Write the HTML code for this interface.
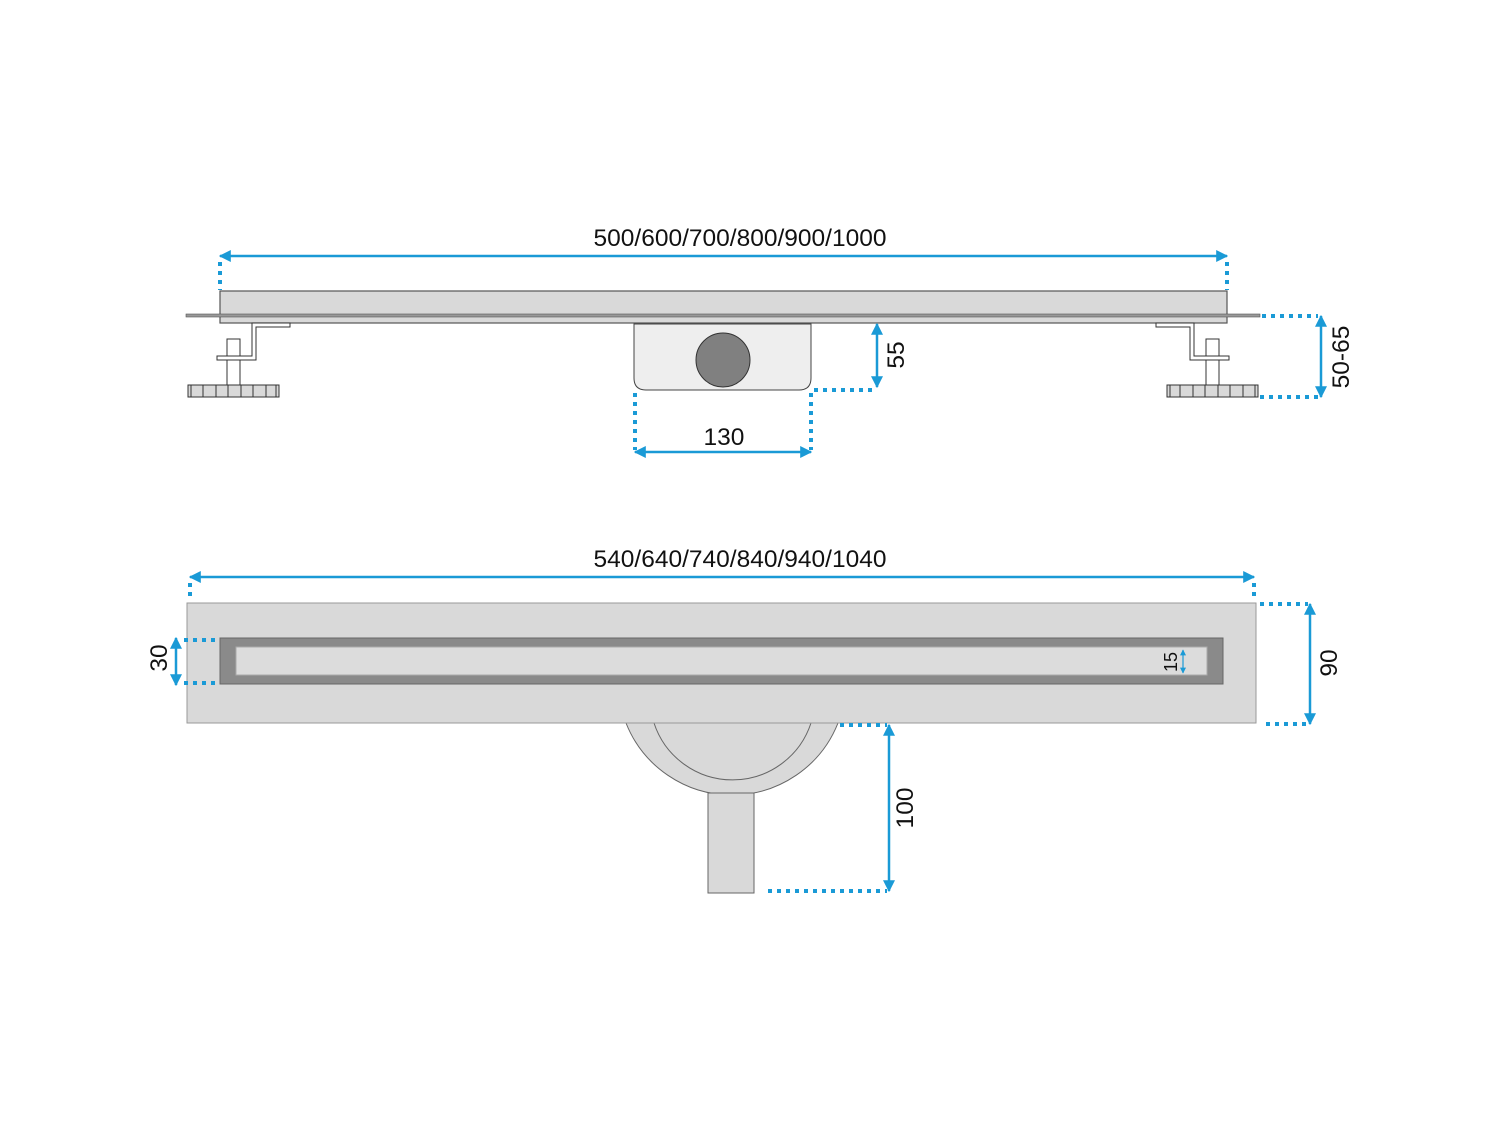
<!DOCTYPE html>
<html><head><meta charset="utf-8"><style>html,body{margin:0;padding:0;background:#fff}svg{display:block}</style></head><body>
<svg width="1500" height="1125" viewBox="0 0 1500 1125" xmlns="http://www.w3.org/2000/svg" font-family="Liberation Sans, sans-serif">
<defs>
<marker id="a" viewBox="0 0 10 10" refX="9" refY="5" markerWidth="12" markerHeight="12" markerUnits="userSpaceOnUse" orient="auto-start-reverse"><path d="M0,0 L10,5 L0,10 z" fill="#1a9ad6"/></marker>
<marker id="b" viewBox="0 0 10 10" refX="9" refY="5" markerWidth="6" markerHeight="6" markerUnits="userSpaceOnUse" orient="auto-start-reverse"><path d="M0,0 L10,5 L0,10 z" fill="#1a9ad6"/></marker>
<g id="foot">
<rect x="188" y="385" width="91" height="12" fill="#d9d9d9" stroke="#333" stroke-width="1"/>
<g stroke="#333" stroke-width="1"><line x1="191" y1="385" x2="191" y2="397"/><line x1="203" y1="385" x2="203" y2="397"/><line x1="216" y1="385" x2="216" y2="397"/><line x1="228" y1="385" x2="228" y2="397"/><line x1="241" y1="385" x2="241" y2="397"/><line x1="253" y1="385" x2="253" y2="397"/><line x1="266" y1="385" x2="266" y2="397"/><line x1="276" y1="385" x2="276" y2="397"/></g>
<rect x="227" y="339" width="13" height="46" fill="#fff" stroke="#333"/>
<path d="M252,323 H290 V327 H256 V360 H217 V356 H252 Z" fill="#fff" stroke="#333"/>
</g>
</defs>
<!-- top view -->
<rect x="220" y="291" width="1007" height="32" fill="#d9d9d9" stroke="#555" stroke-width="1.2"/>
<rect x="186" y="314" width="1074" height="3" fill="#999" stroke="#555" stroke-width="0.6"/>
<use href="#foot"/>
<use href="#foot" transform="translate(1446,0) scale(-1,1)"/>
<path d="M634,324 H811 V378 Q811,390 799,390 H646 Q634,390 634,378 Z" fill="#eee" stroke="#444"/>
<circle cx="723" cy="360" r="27" fill="#808080" stroke="#333"/>
<!-- bottom view -->
<path d="M626,723 A114,114 0 0 0 838,723 Z" fill="#d9d9d9" stroke="#666"/>
<path d="M654,723 A82.6,82.6 0 0 0 811,723" fill="none" stroke="#666"/>
<rect x="708" y="793" width="46" height="100" fill="#d9d9d9" stroke="#666"/>
<rect x="187" y="603" width="1069" height="120" fill="#d9d9d9" stroke="#999"/>
<rect x="220" y="638" width="1003" height="46" fill="#8a8a8a" stroke="#666"/>
<rect x="236" y="647" width="971" height="28" fill="#dcdcdc" stroke="#aaa"/>
<!-- dims -->
<g fill="none" stroke="#1a9ad6" stroke-width="4" stroke-dasharray="4,5">
<line x1="220" y1="262" x2="220" y2="290"/><line x1="1227" y1="262" x2="1227" y2="290"/>
<line x1="814" y1="390" x2="877" y2="390"/>
<line x1="635" y1="393" x2="635" y2="450"/><line x1="811" y1="393" x2="811" y2="450"/>
<line x1="1262" y1="316" x2="1318" y2="316"/><line x1="1260" y1="397" x2="1318" y2="397"/>
<line x1="190" y1="583" x2="190" y2="600"/><line x1="1254" y1="583" x2="1254" y2="600"/>
<line x1="184" y1="640" x2="218" y2="640"/><line x1="184" y1="683" x2="218" y2="683"/>
<line x1="1260" y1="604" x2="1308" y2="604"/><line x1="1266" y1="724" x2="1308" y2="724"/>
<line x1="840" y1="725" x2="887" y2="725"/><line x1="768" y1="891" x2="887" y2="891"/>
</g>
<g stroke="#1a9ad6" stroke-width="2.5" marker-start="url(#a)" marker-end="url(#a)">
<line x1="220" y1="256" x2="1227" y2="256"/>
<line x1="877" y1="324" x2="877" y2="387"/>
<line x1="635" y1="452" x2="811" y2="452"/>
<line x1="1321" y1="316" x2="1321" y2="397"/>
<line x1="190" y1="577" x2="1254" y2="577"/>
<line x1="176" y1="638" x2="176" y2="685"/>
<line x1="1310" y1="604" x2="1310" y2="724"/>
<line x1="889" y1="725" x2="889" y2="891"/>
</g>
<line x1="1183" y1="650" x2="1183" y2="673" stroke="#1a9ad6" stroke-width="1.2" marker-start="url(#b)" marker-end="url(#b)"/>
<g font-size="24.5" fill="#111" text-anchor="middle">
<text x="740" y="246">500/600/700/800/900/1000</text>
<text x="724" y="445">130</text>
<text x="740" y="567">540/640/740/840/940/1040</text>
<text transform="translate(904,355) rotate(-90)">55</text>
<text transform="translate(1349,357) rotate(-90)">50-65</text>
<text transform="translate(167,658) rotate(-90)">30</text>
<text transform="translate(1337,663) rotate(-90)">90</text>
<text transform="translate(913,808) rotate(-90)">100</text>
<text transform="translate(1177,662) rotate(-90)" font-size="18">15</text>
</g>
</svg>
</body></html>
